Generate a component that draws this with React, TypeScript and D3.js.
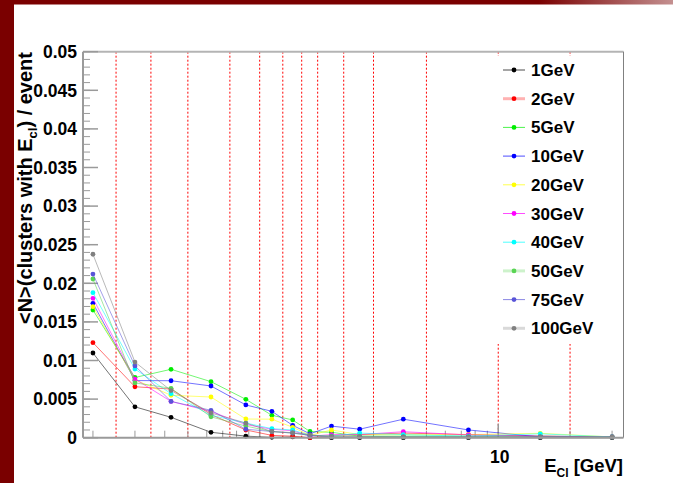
import React from "react";
import * as d3 from "d3";

const W = 673;
const H = 483;

const xCenters = [0.2, 0.3, 0.425, 0.625, 0.875, 1.125, 1.375, 1.625, 2.0, 2.625, 4.0, 7.5, 15, 30];
const binEdges = [0.25, 0.35, 0.5, 0.75, 1, 1.25, 1.5, 1.75, 2.25, 3, 5, 10, 20];

const seriesNames = ["1GeV", "2GeV", "5GeV", "10GeV", "20GeV", "30GeV", "40GeV", "50GeV", "75GeV", "100GeV"];
const seriesColors = ["#000000", "#ff0000", "#00ee00", "#0000ff", "#ffff00", "#ff00ff", "#00ffff", "#59d454", "#5954d8", "#808080"];

const v1 = [0.01097, 0.004, 0.00264, 0.0007, 0.0002, 0.00005, 0.0001, 0.0, 0.0, 0.0, 0.0, 0.0, 0.0, 0.0];
const v2 = [0.01231, 0.0066, 0.0063, 0.003, 0.001, 0.0003, 0.0002, 0.0, 0.0003, 0.0004, 0.0006, 0.0004, 0.0002, 0.0001];
const v5 = [0.01654, 0.0078, 0.00886, 0.00726, 0.00497, 0.0029, 0.0023, 0.0008, 0.0007, 0.0002, 0.0002, 0.0002, 0.0002, 0.0001];
const v10 = [0.01741, 0.0074, 0.00738, 0.0067, 0.00424, 0.00342, 0.0016, 0.0005, 0.0015, 0.0011, 0.0024, 0.001, 0.0001, 0.0001];
const v20 = [0.01697, 0.0075, 0.0055, 0.00527, 0.00242, 0.0024, 0.00135, 0.0003, 0.001, 0.0004, 0.0004, 0.0004, 0.00057, 0.0001];
const v30 = [0.01805, 0.0076, 0.0047, 0.0034, 0.0017, 0.0011, 0.0009, 0.0002, 0.0004, 0.0004, 0.00078, 0.00035, 0.0002, 0.0001];
const v40 = [0.01878, 0.0089, 0.0057, 0.0029, 0.0019, 0.00117, 0.001, 0.0003, 0.0002, 0.0006, 0.0004, 0.0002, 0.0005, 0.0001];
const v50 = [0.02056, 0.0071, 0.0064, 0.0027, 0.0015, 0.0008, 0.0006, 0.0003, 0.0002, 0.0002, 0.0001, 0.0001, 0.0001, 0.0001];
const v75 = [0.0212, 0.0093, 0.0047, 0.00355, 0.0011, 0.0008, 0.0006, 0.0003, 0.0001, 0.0001, 0.0001, 0.0001, 0.0001, 0.0001];
const v100 = [0.02376, 0.0098, 0.0061, 0.0032, 0.0019, 0.0008, 0.00065, 0.0004, 0.0001, 0.0001, 0.0001, 0.0001, 0.0001, 0.0001];

const seriesValues = [v1, v2, v5, v10, v20, v30, v40, v50, v75, v100];
const legendThick = [false, true, false, false, false, false, false, true, false, true];

const yTicks = [0, 0.005, 0.01, 0.015, 0.02, 0.025, 0.03, 0.035, 0.04, 0.045, 0.05];
const yTickLabels = ["0", "0.005", "0.01", "0.015", "0.02", "0.025", "0.03", "0.035", "0.04", "0.045", "0.05"];
const xMajorTicks = [1, 10];
const xMajorLabels = ["1", "10"];
const xMinorTicks = [0.2, 0.3, 0.4, 0.5, 0.6, 0.7, 0.8, 0.9, 2, 3, 4, 5, 6, 7, 8, 9, 20, 30];

const FONT = "'Liberation Sans', Arial, Helvetica, sans-serif";

export default function App() {
  const left = 83;
  const right = 623.5;
  const top = 51.7;
  const bottom = 437.7;
  const x = d3.scaleLog().domain([0.1817, 33.5]).range([left, right]);
  const y = d3.scaleLinear().domain([0, 0.05]).range([bottom, top]);
  const line = d3
    .line<number>()
    .x((_, i) => x(xCenters[i]))
    .y((d) => y(d));

  const yMinor = d3.range(0, 0.0501, 0.001);
  const axisColor = "#9a9a9a";

  const legX0 = 503;
  const legY0 = 70;
  const legDy = 28.7;

  return (
    <svg
      width={W}
      height={H}
      style={{ position: "absolute", left: 0, top: 0, display: "block", background: "#fff" }}
      fontFamily={FONT}
    >
      <defs>
        <linearGradient id="topband" x1="0" x2="1" y1="0" y2="0">
          <stop offset="0" stopColor="#7a0000" />
          <stop offset="0.8" stopColor="#7a0000" />
          <stop offset="1" stopColor="#c49090" />
        </linearGradient>
      </defs>
      <rect x={0} y={0} width={W} height={H} fill="#ffffff" />
      <rect x={0} y={0} width={W} height={4.5} fill="url(#topband)" />
      <rect x={0} y={0} width={14} height={H} fill="#7a0000" />

      {/* red dashed bin edges */}
      {binEdges.map((e, i) => (
        <line
          key={"be" + i}
          x1={x(e)}
          x2={x(e)}
          y1={top}
          y2={bottom}
          stroke="#ff0000"
          strokeWidth={1}
          strokeDasharray="2,2"
        />
      ))}

      {/* frame */}
      <line x1={left} x2={right} y1={top} y2={top} stroke="#b4b4b4" strokeWidth={2} />
      <line x1={right} x2={right} y1={top} y2={bottom} stroke="#808080" strokeWidth={1} />
      <line x1={left} x2={left} y1={top} y2={bottom} stroke={axisColor} strokeWidth={2} />

      {/* y ticks */}
      {yMinor.map((t, i) => (
        <line key={"ym" + i} x1={left} x2={left + 7} y1={y(t)} y2={y(t)} stroke={axisColor} strokeWidth={1} />
      ))}
      {yTicks.map((t, i) => (
        <line key={"yM" + i} x1={left} x2={left + 15} y1={y(t)} y2={y(t)} stroke={axisColor} strokeWidth={1.5} />
      ))}
      {yTicks.map((t, i) => (
        <text
          key={"yl" + i}
          x={77}
          y={y(t) + 6.2}
          textAnchor="end"
          fontSize={17.5}
          fontWeight="bold"
          fill="#000"
        >
          {yTickLabels[i]}
        </text>
      ))}

      {/* x ticks */}
      {xMinorTicks.map((t, i) => (
        <line key={"xm" + i} x1={x(t)} x2={x(t)} y1={bottom} y2={bottom - 7} stroke={axisColor} strokeWidth={1} />
      ))}
      {xMajorTicks.map((t, i) => (
        <line key={"xM" + i} x1={x(t)} x2={x(t)} y1={bottom} y2={bottom - 14} stroke={axisColor} strokeWidth={1.5} />
      ))}
      {xMajorTicks.map((t, i) => (
        <text key={"xl" + i} x={x(t) + 1.5} y={463} textAnchor="middle" fontSize={17.5} fontWeight="bold" fill="#000">
          {xMajorLabels[i]}
        </text>
      ))}

      {/* series */}
      {seriesValues.map((vals, si) => (
        <g key={"s" + si}>
          <path d={line(vals) || ""} fill="none" stroke={seriesColors[si]} strokeOpacity={0.55} strokeWidth={1} />
          {vals.map((v, i) => (
            <circle key={i} cx={x(xCenters[i])} cy={y(v)} r={2.4} fill={seriesColors[si]} />
          ))}
        </g>
      ))}

      <line x1={left} x2={right} y1={bottom} y2={bottom} stroke={axisColor} strokeWidth={2} />

      {/* legend */}
      <rect x={492} y={56} width={126} height={288} fill="#ffffff" />
      {seriesNames.map((name, i) => {
        const ly = legY0 + i * legDy;
        return (
          <g key={"lg" + i}>
            <line
              x1={legX0}
              x2={legX0 + 22}
              y1={ly}
              y2={ly}
              stroke={seriesColors[i]}
              strokeOpacity={legendThick[i] ? 0.3 : 0.7}
              strokeWidth={legendThick[i] ? 3 : 1}
            />
            <circle cx={legX0 + 11} cy={ly} r={2.4} fill={seriesColors[i]} />
            <text x={531} y={ly + 6} fontSize={17} fontWeight="bold" fill="#000">
              {name}
            </text>
          </g>
        );
      })}

      {/* axis titles */}
      <text x={623} y={472} textAnchor="end" fontSize={18.5} fontWeight="bold" fill="#000">
        E
        <tspan dy={5} fontSize={12}>
          Cl
        </tspan>
        <tspan dy={-5}> [GeV]</tspan>
      </text>
      <text
        transform={`translate(32,52) rotate(-90)`}
        textAnchor="end"
        fontSize={20}
        fontWeight="bold"
        fill="#000"
      >
        {"<N>(clusters with E"}
        <tspan dy={5} fontSize={13}>
          cl
        </tspan>
        <tspan dy={-5}>{") / event"}</tspan>
      </text>
    </svg>
  );
}
